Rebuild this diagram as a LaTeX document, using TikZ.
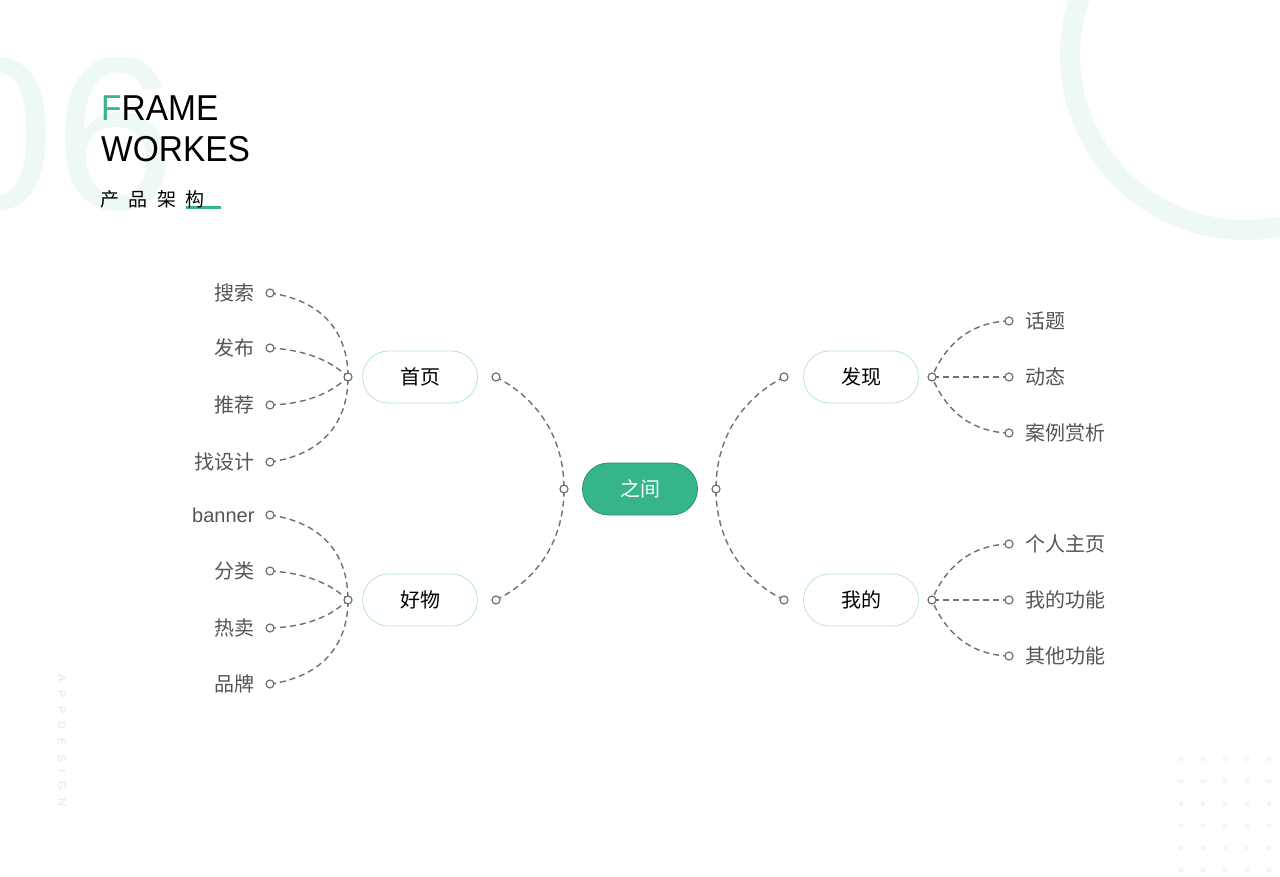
\documentclass[tikz,border=0pt]{standalone}
\usepackage{fontspec}
\setmainfont{Liberation Sans}
\newfontfamily\cjk{Noto Sans CJK SC}
\definecolor{brand}{HTML}{36B58D}
\definecolor{pale}{HTML}{EEF8F4}
\definecolor{leafc}{HTML}{555555}
\definecolor{linec}{HTML}{707070}
\tikzset{
  hub/.style={draw=brand!35,line width=0.8pt,rounded corners=26pt,minimum width=115pt,minimum height=52pt,fill=white,font=\cjk\fontsize{20}{24}\selectfont,text=black},
  core/.style={hub,draw=brand!80!black,fill=brand,text=white},
  dot/.style={circle,draw=linec,line width=1.2pt,fill=white,inner sep=0pt,minimum size=8pt},
  link/.style={draw=linec,dash pattern=on 6pt off 4pt,line width=1.4pt},
  leafl/.style={anchor=east,font=\cjk\fontsize{20}{24}\selectfont,text=leafc},
  leafr/.style={anchor=west,font=\cjk\fontsize{20}{24}\selectfont,text=leafc},
}
\begin{document}
\begin{tikzpicture}[x=1pt,y=-1pt]
\useasboundingbox (0,0) rectangle (1280,877);
\fill[white] (0,0) rectangle (1280,877);
\begin{scope}
\clip (0,0) rectangle (1280,877);
\draw[pale,line width=20pt] (1245,55) circle (175);
\node[anchor=base east,text=pale,font=\fontsize{218}{218}\selectfont,inner sep=0pt] (bg) at (176,210) {06};
\end{scope}
\foreach \i in {0,...,4}{\foreach \j in {0,...,5}{\fill[pale] (1181+22*\i,759+22.2*\j) circle (2.4);}}
\node[rotate=-90,anchor=west,text=pale!70!brand!60,font=\fontsize{11}{11}\selectfont,inner sep=0pt] (vt) at (62,662) {-\hspace{8.5pt}A\hspace{8.5pt}P\hspace{8.5pt}P\hspace{8.5pt}D\hspace{8.5pt}E\hspace{8.5pt}S\hspace{8.5pt}I\hspace{8.5pt}G\hspace{8.5pt}N};
\node[anchor=base west,inner sep=0pt,font=\fontsize{36}{36}\selectfont] (t1) at (101,121) {\scalebox{0.93}[1]{\textcolor{brand}{F}RAME}};
\node[anchor=base west,inner sep=0pt,font=\fontsize{36}{36}\selectfont] (t2) at (101,162) {\scalebox{0.93}[1]{WORKES}};
\fill[brand] (186,206.5) rectangle (221,209.5);
\node[anchor=base west,inner sep=0pt,font=\cjk\fontsize{19}{19}\selectfont] (t3) at (100,207) {产\hspace{9.5pt}品\hspace{9.5pt}架\hspace{9.5pt}构};

\node[core] (c) at (640,489) {之间};
\node[hub] (h1) at (420,377) {首页};
\node[hub] (h2) at (420,600) {好物};
\node[hub] (h3) at (861,377) {发现};
\node[hub] (h4) at (861,600) {我的};

\foreach \n/\x/\y in {cl/564/489,cr/716/489,h1l/348/377,h1r/496/377,h2l/348/600,h2r/496/600,h3l/784/377,h3r/932/377,h4l/784/600,h4r/932/600}{\coordinate (\n) at (\x,\y);}

\draw[link] (h1r) .. controls (540,400) and (564,440) .. (cl);
\draw[link] (h2r) .. controls (540,578) and (564,538) .. (cl);
\draw[link] (h3l) .. controls (740,400) and (716,440) .. (cr);
\draw[link] (h4l) .. controls (740,578) and (716,538) .. (cr);

\foreach \n/\y/\t in {a1/293/搜索,a2/348/发布,a3/405/推荐,a4/462/找设计,b1/515/{\rmfamily banner},b2/571/分类,b3/628/热卖,b4/684/品牌}{
  \coordinate (\n) at (270,\y);
  \node[leafl] (\n t) at (258,\y) {\t};
}
\draw[link] (a1) .. controls (320,300) and (348,330) .. (h1l);
\draw[link] (a2) .. controls (305,350) and (330,360) .. (h1l);
\draw[link] (a3) .. controls (305,404) and (330,394) .. (h1l);
\draw[link] (a4) .. controls (320,455) and (348,425) .. (h1l);
\draw[link] (b1) .. controls (320,522) and (348,552) .. (h2l);
\draw[link] (b2) .. controls (305,573) and (330,583) .. (h2l);
\draw[link] (b3) .. controls (305,627) and (330,617) .. (h2l);
\draw[link] (b4) .. controls (320,677) and (348,647) .. (h2l);

\foreach \n/\y/\t in {r1/321/话题,r2/377/动态,r3/433/案例赏析,s1/544/个人主页,s2/600/我的功能,s3/656/其他功能}{
  \coordinate (\n) at (1009,\y);
  \node[leafr] (\n t) at (1022,\y) {\t};
}
\draw[link] (r1) .. controls (970,322) and (945,345) .. (h3r);
\draw[link] (r2) -- (h3r);
\draw[link] (r3) .. controls (970,432) and (945,409) .. (h3r);
\draw[link] (s1) .. controls (970,545) and (945,568) .. (h4r);
\draw[link] (s2) -- (h4r);
\draw[link] (s3) .. controls (970,655) and (945,632) .. (h4r);

\foreach \n in {cl,cr,h1l,h1r,h2l,h2r,h3l,h3r,h4l,h4r,a1,a2,a3,a4,b1,b2,b3,b4,r1,r2,r3,s1,s2,s3}{\node[dot] at (\n) {};}
\end{tikzpicture}
\end{document}
